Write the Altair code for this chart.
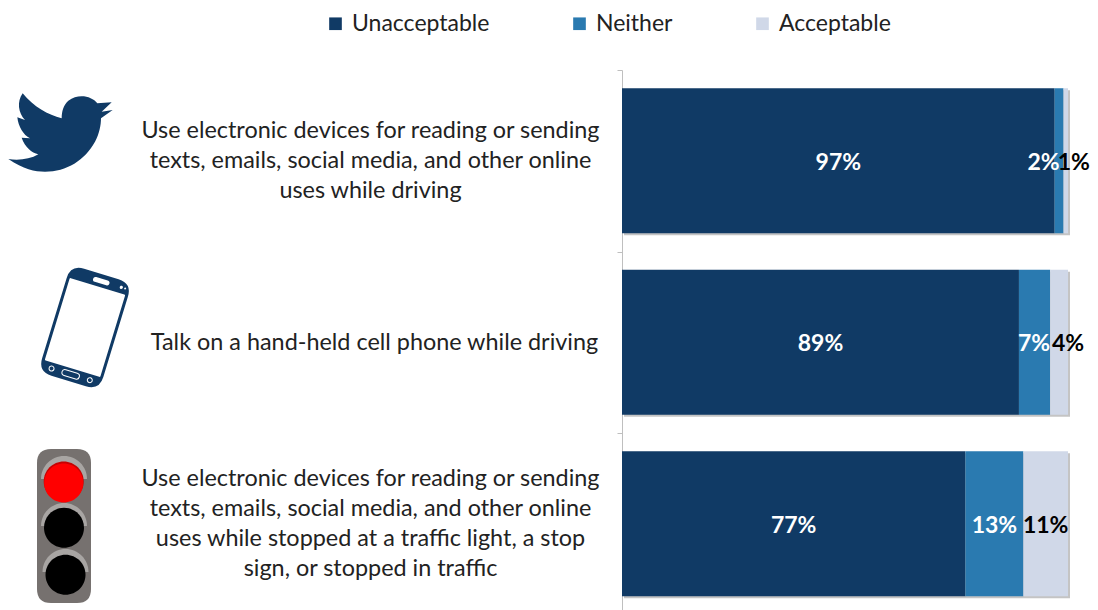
import altair as alt
import pandas as pd

categories = [
    "Use electronic devices for reading or sending\ntexts, emails, social media, and other online\nuses while driving",
    "Talk on a hand-held cell phone while driving",
    "Use electronic devices for reading or sending\ntexts, emails, social media, and other online\nuses while stopped at a traffic light, a stop\nsign, or stopped in traffic",
]
series = ["Unacceptable", "Neither", "Acceptable"]
colors = ["#103A65", "#2A7AB0", "#D0D8E8"]
unacceptable = [97, 89, 77]
neither = [2, 7, 13]
acceptable = [1, 4, 11]

FONT = "Lato"
rows = []
for i, cat in enumerate(categories):
    start = 0
    for k, (s, v) in enumerate(zip(series, (unacceptable[i], neither[i], acceptable[i]))):
        end = start + v
        vis_end = min(end, 100)
        lx = (start + vis_end) / 2
        if v < 10 and k == 1:
            lx = min(end - 3.6, 94.5)
        elif v < 10 and k == 2:
            lx = min(start + 4, 101.3)
        rows.append(dict(cat=cat, series=s, order=k, value=v, label=f"{v}%", lx=lx,
                         tcolor="#000000" if k == 2 else "#ffffff"))
        start = end
df = pd.DataFrame(rows)

x_scale = alt.Scale(domain=[0, 100])
y_scale = alt.Scale(domain=categories, paddingInner=0.2, paddingOuter=0.1)
TICK_SHIFT = 90.75
y_enc = alt.Y("cat:N", scale=y_scale, title=None, axis=alt.Axis(
    labelExpr="split(datum.label, '\\n')", labelAlign="center", labelLimit=0,
    labelPadding={"condition": {"test": "indexof(datum.value, 'Talk') == 0", "value": 243}, "value": 247},
    labelOffset={"condition": [
        {"test": "indexof(datum.value, 'Talk') == 0", "value": TICK_SHIFT},
        {"test": "indexof(datum.value, 'sign,') >= 0", "value": TICK_SHIFT - 45},
    ], "value": TICK_SHIFT - 30},
    labelFont=FONT, labelFontSize=23.4, labelColor="#222222", labelLineHeight=30, labelBaseline="middle",
    tickOffset=-TICK_SHIFT, tickSize=5, tickColor="#BFBFBF", domainColor="#BFBFBF", labelOverlap=False, grid=False))

totals = pd.DataFrame({"cat": categories, "total": [100, 100, 100]})
shadow = alt.Chart(totals).mark_bar(color="#C4C4C4", xOffset=2, yOffset=2).encode(
    x=alt.X("total:Q", scale=x_scale, axis=None), y=y_enc)

bars = alt.Chart(df).mark_bar(clip=True).encode(
    x=alt.X("value:Q", scale=x_scale, stack="zero", axis=None),
    y=y_enc,
    order="order:Q",
    color=alt.Color("series:N", scale=alt.Scale(domain=series, range=colors), legend=alt.Legend(
        title=None, orient="none", legendX=-298, legendY=-58, direction="horizontal",
        symbolType="square", symbolSize=160, symbolStrokeWidth=0, symbolOpacity=1, labelFont=FONT, labelFontSize=23,
        labelColor="#222222", columnPadding=78, labelOffset=5)),
)
labels = alt.Chart(df).mark_text(font=FONT, fontSize=23, fontWeight="bold", dy=2).encode(
    x=alt.X("lx:Q", scale=x_scale, axis=None),
    y=y_enc,
    text="label:N",
    color=alt.Color("tcolor:N", scale=None, legend=None),
)

one = pd.DataFrame({"a": [0]})
OX, OY = 622, 70


def icon(path, px, py, fill, scale=1.0, angle=0):
    return alt.Chart(one).mark_point(shape=path, filled=True, fill=fill, stroke=None, opacity=1,
                                     size=(2 * scale) ** 2, angle=angle).encode(
        x=alt.value(px - OX), y=alt.value(py - OY))


def rrect(w, h, r, cx=0, cy=0):
    x0, y0, x1, y1 = cx - w / 2, cy - h / 2, cx + w / 2, cy + h / 2
    return (f"M{x0+r} {y0}L{x1-r} {y0}Q{x1} {y0} {x1} {y0+r}L{x1} {y1-r}Q{x1} {y1} {x1-r} {y1}"
            f"L{x0+r} {y1}Q{x0} {y1} {x0} {y1-r}L{x0} {y0+r}Q{x0} {y0} {x0+r} {y0}Z")


def circle(r, cx=0, cy=0):
    return f"M{cx-r} {cy}A{r} {r} 0 1 1 {cx+r} {cy}A{r} {r} 0 1 1 {cx-r} {cy}Z"


def halo(r):
    return f"M{-r} 0A{r} {r} 0 0 1 {r} 0Z"


BIRD = ("M335 127L292 130C275 108 235 100 205 122C190 135 185 155 185 175C145 165 100 140 68 100"
        "C50 125 55 160 75 180L52 172C55 200 70 225 90 235L65 233C75 262 95 278 115 283"
        "C90 298 55 302 25 297C70 328 105 335 135 335C200 335 255 300 285 245C298 222 303 195 303 175"
        "L338 150L305 155L335 127Z")

navy = colors[0]
layers = [shadow, bars, labels, icon(BIRD, 0, 60, navy, scale=1 / 3)]

# phone
pcx, pcy, ang = 85, 327.5, 17
phone = [
    (rrect(64, 112, 14), navy),
    (rrect(58, 86, 1, 0, 0), "#ffffff"),
    (rrect(17, 5, 2.5, 2, -49), "#ffffff"),
    (circle(1.6, 23, -49), "#ffffff"),
    (circle(1, 27, -49), "#ffffff"),
    (rrect(19, 7, 3.5, 0, 49), "#ffffff"),
    (rrect(17, 5, 2.5, 0, 49), navy),
    (circle(3, -20, 49), "#ffffff"),
    (circle(2, -20, 49), navy),
    (circle(3, 20, 49), "#ffffff"),
    (circle(2, 20, 49), navy),
]
for p, c in phone:
    layers.append(icon(p, pcx, pcy, c, angle=ang))

# traffic light
layers.append(icon(rrect(54, 154, 14), 64, 526, "#76716F"))
for hx, hy in ((64, 479), (64, 526), (65.5, 572)):
    layers.append(icon(halo(23), hx, hy, "#A8A5A3"))
layers.append(icon(circle(20), 63.7, 481.5, "#C80000"))
layers.append(icon(circle(19.5), 63.7, 483, "#FF0000"))
layers.append(icon(circle(20), 64, 527.7, "#000000"))
layers.append(icon(circle(20), 65.5, 574.7, "#000000"))

chart = alt.layer(*layers).resolve_scale(color="independent").properties(
    width=446, height=544.5, padding={"left": 614, "top": 62, "right": 22, "bottom": 0},
    autosize=alt.AutoSizeParams(type="none"),
).configure_view(stroke=None)

chart.save("out.html", embed_options={"renderer": "svg", "actions": False})
